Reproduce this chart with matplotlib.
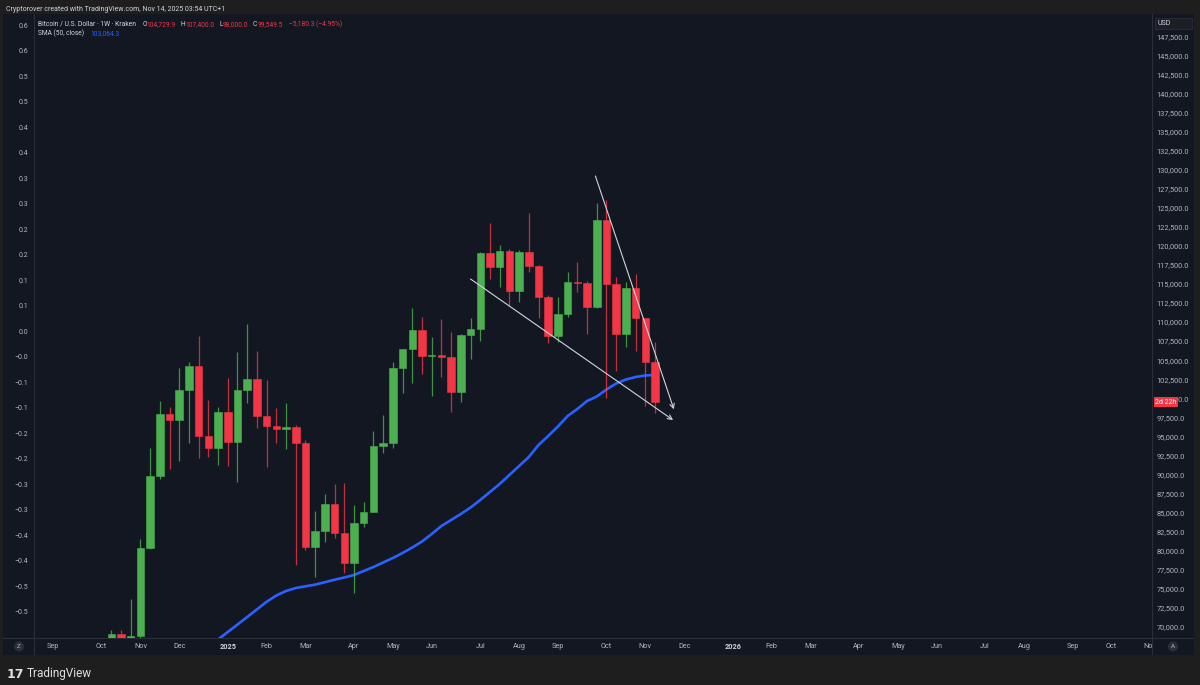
import matplotlib
matplotlib.use("Agg")
import matplotlib.pyplot as plt
from matplotlib.patches import Rectangle, Circle
from matplotlib.transforms import Bbox, blended_transform_factory
import numpy as np
import pandas as pd

plt.rcParams['font.family'] = ['Roboto', 'DejaVu Sans']

# weekly BTC/USD candles (Kraken), first week = 2024-10-14
opens = [62900, 69000, 68400, 68750, 80300, 89800, 97900, 97100, 101100, 104250,
         95000, 93450, 98250, 94300, 101100, 102500, 97600, 96350, 96000, 96250,
         94150, 80480, 82550, 86100, 82300, 78300, 83650, 85100, 93700, 94150,
         104000, 106400, 109000, 105600, 105700, 105450, 100850, 108300, 109100, 119050,
         117200, 119350, 114150, 119150, 117350, 113350, 108150, 111000, 115300, 115200,
         112000, 123400, 115000, 108500, 114450, 110500, 104729.9]
highs = [69500, 69500, 73550, 81500, 93450, 99600, 98800, 104000, 104800, 108200,
         99800, 98850, 102650, 106100, 109800, 106250, 102400, 98700, 99400, 96500,
         94500, 85150, 87400, 88700, 88900, 86000, 86300, 95750, 97800, 104800,
         106400, 111900, 110650, 108100, 110400, 108750, 108500, 110500, 119250, 123000,
         120150, 119550, 119450, 124300, 117500, 113500, 113350, 116600, 117900, 115400,
         125600, 126100, 115900, 115300, 116300, 110600, 107400]
lows = [62000, 65100, 67500, 66800, 80200, 89400, 90700, 91700, 94100, 92150,
        92300, 91200, 91100, 89000, 99400, 96100, 91000, 94100, 93300, 78100,
        80050, 76550, 81150, 81600, 77000, 74400, 83100, 85100, 92850, 93400,
        100650, 102050, 103150, 100300, 102850, 98200, 99500, 105100, 107450, 115650,
        114600, 112100, 112700, 116600, 110600, 107300, 107400, 110700, 114000, 108500,
        111800, 100000, 103600, 106700, 106250, 98950, 98000]
closes = [69000, 68400, 68750, 80300, 89800, 97900, 97100, 101100, 104250, 95000,
          93450, 98250, 94300, 101100, 102500, 97600, 96350, 96000, 96250, 94150,
          80480, 82550, 86100, 82300, 78300, 83650, 85100, 93700, 94150, 104000,
          106400, 109000, 105600, 105700, 105450, 100850, 108300, 109100, 119050, 117200,
          119350, 114150, 119150, 117350, 113350, 108150, 111000, 115300, 115200, 112000,
          123400, 115000, 108500, 114450, 110500, 104730, 99549.5]
candle_dates = pd.date_range("2024-10-14", periods=len(closes), freq="W-MON")

# SMA(50, close), first visible week = 2024-12-30
sma50 = [68292, 69278, 70263, 71249, 72250, 73250, 74074, 74665, 75059, 75283,
         75506, 75821, 76150, 76439, 76767, 77293, 77819, 78410, 79001, 79658,
         80381, 81169, 82155, 83206, 83994, 84783, 85637, 86622, 87674, 88725,
         89907, 91090, 92273, 93849, 95032, 96280, 97660, 98580, 99631, 100222,
         101142, 101930, 102456, 102785, 102982, 103064.3]
sma_dates = pd.date_range("2024-12-30", periods=len(sma50), freq="W-MON")

price_ticks = list(range(70000, 150000, 2500))
left_vals = [0.625 - 0.05 * i for i in range(24)]
left_labels = ["0.6", "0.6", "0.5", "0.5", "0.4", "0.4", "0.3", "0.3", "0.2", "0.2",
               "0.1", "0.1", "0.0", "\u22120.0", "\u22120.1", "\u22120.1", "\u22120.2",
               "\u22120.2", "\u22120.3", "\u22120.3", "\u22120.4", "\u22120.4",
               "\u22120.5", "\u22120.5"]

# hand-drawn trend lines (date, price)
trend_lines = [
    (("2025-09-28", 129200), ("2025-11-23 14:00", 98540)),
    (("2025-06-30", 115660), ("2025-11-23", 97130)),
]

UP = "#4caf50"
DOWN = "#f23645"
TXT = "#b2b5be"
SEP = "#2a2e39"
W, H = 1200, 685

fig = plt.figure(figsize=(12, 6.85), dpi=100, facecolor="#1e1e1e")

def fx(x):
    return x / W

def fy(y):
    return 1 - y / H

# panel background in pixel coords
bg = fig.add_axes([fx(3), fy(655), fx(1191), 641 / H])
bg.set_facecolor("#131722")
bg.set_xlim(3, 1194)
bg.set_ylim(655, 14)
bg.set_xticks([])
bg.set_yticks([])
for s in bg.spines.values():
    s.set_visible(False)
bg.axhline(637.5, color=SEP, lw=0.8)
bg.axvline(34, color=SEP, lw=0.8)
bg.axvline(1151.5, color=SEP, lw=0.8)
bg.add_patch(Rectangle((1155, 18), 37, 11, fc="#1c1f26", ec=SEP, lw=0.6))
bg.text(1158, 23.5, "USD", color="#d1d4dc", fontsize=5, va="center", ha="left")
bg.add_patch(Circle((19, 646.5), 5, fc=SEP, ec="none"))
bg.text(19, 646.5, "Z", color=TXT, fontsize=4.5, ha="center", va="center")
bg.add_patch(Circle((1173, 646.5), 5, fc=SEP, ec="none"))
bg.text(1173, 646.5, "A", color=TXT, fontsize=4.5, ha="center", va="center")

ax = fig.add_axes([fx(34), fy(637.5), fx(1151.5 - 34), (637.5 - 14) / H])
ax.patch.set_visible(False)
for s in ax.spines.values():
    s.set_visible(False)

axl = ax.twinx()
for s in axl.spines.values():
    s.set_visible(False)
axl.set_ylim(-0.575, 0.6466)
axl.yaxis.tick_left()
axl.set_yticks(left_vals, left_labels)
axl.tick_params(axis="y", length=0, pad=4, labelsize=5, labelcolor=TXT,
                right=False, labelright=False)

# candles
o = np.array(opens)
c = np.array(closes)
colors = [UP if cc >= oo else DOWN for oo, cc in zip(o, c)]
ax.vlines(candle_dates, lows, highs, colors=colors, linewidth=0.9, alpha=0.8, zorder=3)
ax.bar(candle_dates, c - o, bottom=o, width=5.4, color=colors, edgecolor=colors,
       linewidth=0.4, zorder=4)

# SMA
ax.plot(sma_dates, sma50, color="#2962ff", lw=1.9, zorder=2, solid_capstyle="round")

# trend lines
for (d0, p0), (d1, p1) in trend_lines:
    ax.annotate("", xy=(pd.Timestamp(d1), p1), xytext=(pd.Timestamp(d0), p0),
                arrowprops=dict(arrowstyle="->", color="#d1d4dc", lw=0.8,
                                shrinkA=0, shrinkB=0, mutation_scale=8),
                zorder=6)

ax.set_ylim(68555, 150483)
ax.set_xlim(pd.Timestamp("2024-09-02") - pd.Timedelta(days=13.7),
            pd.Timestamp("2024-09-02") + pd.Timedelta(days=791.9))

ax.yaxis.tick_right()
ax.set_yticks(price_ticks, [f"{v:,.1f}" for v in price_ticks])
ax.tick_params(axis="y", length=0, pad=3.5, labelsize=5.3, labelcolor=TXT,
               left=False, labelleft=False)

month_ticks = pd.date_range("2024-09-01", "2026-11-30", freq="WOM-1MON")
month_labels = [str(d.year) if d.month == 1 else d.strftime("%b") for d in month_ticks]
ax.set_xticks(month_ticks, month_labels)
ax.tick_params(axis="x", length=0, pad=4, labelsize=5.2, labelcolor=TXT)
clip = Bbox.from_extents(0, 0, 1151.5, H)
for t in ax.xaxis.get_major_ticks():
    t.label1.set_clip_box(clip)
    t.label1.set_clip_on(True)
    if t.label1.get_text().isdigit():
        t.label1.set_fontweight("bold")
        t.label1.set_color("#d1d4dc")

# countdown label on price scale (covers the 100,000 label as in TradingView)
trans = blended_transform_factory(ax.transAxes, ax.transData)
ax.annotate("2d 22h", xy=(1, closes[-1]), xycoords=trans, xytext=(2.5, -0.5),
            textcoords="offset points", color="white", fontsize=5, va="center",
            ha="left", annotation_clip=False, zorder=10,
            bbox=dict(boxstyle="square,pad=0.2", fc=DOWN, ec="none"))

# header / legend
fig.text(fx(5.5), fy(9.3), "Cryptorover created with TradingView.com, Nov 14, 2025 03:54 UTC+1",
         color="#d1d4dc", fontsize=5, va="center")
ly = fy(24.3)
fig.text(fx(38.3), ly, "Bitcoin / U.S. Dollar \u00b7 1W \u00b7 Kraken", color="#d1d4dc",
         fontsize=4.85, va="center")
legend_parts = [(142.3, "O", "#d1d4dc"), (146.5, "104,729.9", DOWN),
                (180.3, "H", "#d1d4dc"), (185.3, "107,400.0", DOWN),
                (219, "L", "#d1d4dc"), (222.5, "98,000.0", DOWN),
                (252.7, "C", "#d1d4dc"), (257.5, "99,549.5", DOWN),
                (289, "\u22125,180.3 (\u22124.95%)", DOWN)]
for x, s, col in legend_parts:
    fig.text(fx(x), ly, s, color=col, fontsize=4.8, va="center")
fig.text(fx(38.3), fy(33.3), "SMA (50, close)", color="#d1d4dc", fontsize=4.8, va="center")
fig.text(fx(90), fy(33.3), "103,064.3", color="#2962ff", fontsize=4.8, va="center")

# footer logo
fig.text(fx(7), fy(674), "17", color="#e0e0e0", fontsize=9, fontweight="heavy",
         va="center", family="DejaVu Sans")
fig.text(fx(27), fy(674), "TradingView", color="#e0e0e0", fontsize=8.5, va="center")

fig.savefig("out.png", dpi=100, facecolor=fig.get_facecolor())
